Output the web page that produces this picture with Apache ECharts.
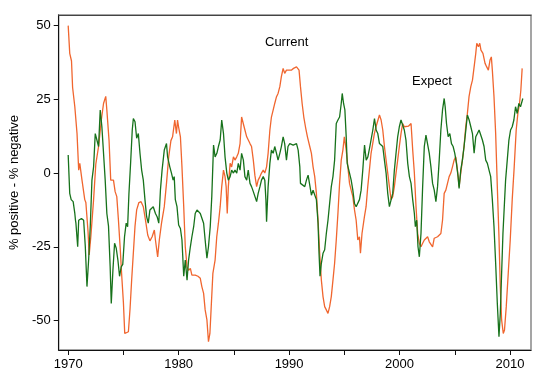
<!DOCTYPE html>
<html>
<head>
<meta charset="utf-8">
<script src="https://cdn.jsdelivr.net/npm/echarts@6/dist/echarts.min.js"></script>
<style>html,body{margin:0;padding:0;background:#fff}#c{width:550px;height:392px}</style>
</head>
<body>
<div id="c"></div>
<script>
// Current (orange) series: time (year) and value
var currentYears = [1970.0,1970.14,1970.3,1970.4,1970.6,1970.8,1970.95,1971.05,1971.25,1971.5,1971.6,1971.8,1971.9,1972.05,1972.3,1972.5,1972.75,1973.0,1973.2,1973.4,1973.5,1973.7,1973.85,1973.95,1974.1,1974.25,1974.4,1974.55,1974.7,1974.85,1975.0,1975.12,1975.3,1975.45,1975.6,1975.75,1975.9,1976.05,1976.2,1976.4,1976.6,1976.8,1976.95,1977.0,1977.2,1977.4,1977.6,1977.8,1977.9,1978.1,1978.25,1978.45,1978.7,1978.9,1979.1,1979.3,1979.45,1979.65,1979.8,1979.9,1980.0,1980.16,1980.3,1980.46,1980.6,1980.76,1980.9,1981.06,1981.2,1981.5,1981.75,1981.96,1982.1,1982.26,1982.4,1982.56,1982.7,1982.83,1982.95,1983.1,1983.3,1983.45,1983.6,1983.76,1983.9,1984.06,1984.2,1984.3,1984.4,1984.5,1984.66,1984.8,1984.96,1985.1,1985.26,1985.4,1985.56,1985.7,1985.86,1986.0,1986.16,1986.3,1986.46,1986.6,1986.76,1986.9,1987.06,1987.2,1987.36,1987.5,1987.66,1987.8,1987.96,1988.1,1988.26,1988.4,1988.56,1988.7,1988.86,1989.0,1989.16,1989.3,1989.46,1989.6,1989.76,1989.9,1990.2,1990.4,1990.67,1990.9,1991.03,1991.18,1991.33,1991.48,1991.66,1991.87,1992.02,1992.17,1992.32,1992.47,1992.62,1992.77,1992.92,1993.07,1993.22,1993.37,1993.52,1993.67,1993.82,1993.97,1994.12,1994.27,1994.42,1994.57,1994.72,1994.87,1995.0,1995.17,1995.32,1995.47,1995.62,1995.77,1995.92,1996.07,1996.22,1996.37,1996.46,1996.6,1996.82,1996.97,1997.12,1997.27,1997.42,1997.57,1997.72,1997.87,1998.18,1998.33,1998.48,1998.63,1998.78,1998.93,1999.08,1999.23,1999.38,1999.53,1999.68,1999.83,1999.98,2000.13,2000.28,2000.43,2000.58,2000.8,2001.04,2001.19,2001.34,2001.49,2001.64,2001.79,2001.94,2002.09,2002.24,2002.39,2002.54,2002.69,2002.84,2002.99,2003.14,2003.29,2003.44,2003.59,2003.74,2003.89,2004.04,2004.19,2004.34,2004.49,2004.64,2004.79,2004.94,2005.09,2005.24,2005.39,2005.54,2005.69,2005.84,2005.99,2006.14,2006.29,2006.45,2006.6,2006.75,2006.9,2006.99,2007.14,2007.26,2007.37,2007.55,2007.74,2007.89,2008.04,2008.19,2008.31,2008.4,2008.55,2008.7,2008.85,2009.0,2009.12,2009.24,2009.39,2009.5,2009.66,2009.84,2010.02,2010.2,2010.38,2010.56,2010.71,2010.86,2010.98,2011.1];
var currentValues = [50,40.6,38,29,22.5,13.4,1,3.3,-2.4,-9,-10,-20,-27.8,-21.6,-9,3,9,18,23.6,26,21.4,11,-2.4,-1.8,-2.4,-6.3,-8,-16,-25,-35,-44,-54.4,-55,-53.8,-46,-36,-27,-18,-12.5,-10,-9.7,-11.4,-10.8,-16,-21,-23,-21.6,-19.3,-22.7,-28.4,-22.7,-17,-11.4,-3.5,5.5,11,12.3,18,13.4,18,15.5,12.3,2.1,-11.4,-25,-31.8,-33,-32.3,-34.6,-34.6,-35,-35.7,-38.5,-40.8,-46.4,-49.8,-57.2,-54.4,-45.3,-34,-29.5,-21.6,-17,-11.4,-4.6,1,-1.2,-4.6,-13.7,-4.6,3.3,2.1,5.5,4.4,5.5,6.7,10,19,18.5,14.6,12.3,11.8,10,9,4.4,-0.7,-4.6,-2.4,-1.2,0,1,0,2.1,6.7,14.6,19,21.4,23.6,25.9,27,29.3,32.7,35.5,33.8,34.9,35.5,34.9,35.5,36,34.9,29.3,23.6,19,15.7,12.3,9,6.7,2.1,-1.2,-6.9,-16,-27.2,-36.3,-41.9,-45.3,-46.4,-47.6,-45.3,-41.9,-36.3,-30.6,-22.7,-13.7,-3.5,4.4,7.8,12.3,7.8,2.1,-3.5,-5.8,-8,-12.5,-16,-22.7,-21.6,-27.2,-20.5,-14.8,-11.4,-4.6,1,6.7,10,13.4,15.7,19.7,18,14.6,9,4.4,0,-4.6,-9,-8,-4.6,0,4.4,9,13.4,16.8,15.7,16.3,15.9,16.8,7.8,0,-11.4,-20.5,-23.8,-25,-23.8,-22.7,-23.3,-21.6,-23.3,-23.8,-25,-22.1,-22.7,-21.6,-22.1,-20.5,-16,-6.9,-5.8,-3.5,-1.2,0,2.1,4.4,5.5,1,-4.6,0,4.4,9,15.7,20.2,25.9,29.3,31.5,36,40.6,44,42.8,44,41.7,40.6,37.2,36,34.9,38.3,39.4,34.9,25.9,13.4,-4.6,-21.6,-38.5,-49.8,-54.4,-53.2,-45.3,-34,-22.7,-9,2.1,14.6,20.2,23.6,28.1,35.5];

// Expect (green) series
var expectYears = [1970.0,1970.14,1970.27,1970.45,1970.6,1970.66,1970.7,1970.86,1970.95,1971.05,1971.2,1971.4,1971.55,1971.7,1971.85,1972.0,1972.15,1972.3,1972.45,1972.6,1972.75,1972.9,1973.05,1973.2,1973.35,1973.5,1973.65,1973.8,1973.9,1974.05,1974.2,1974.35,1974.5,1974.65,1974.8,1974.94,1975.1,1975.25,1975.38,1975.5,1975.65,1975.8,1975.9,1976.05,1976.2,1976.35,1976.5,1976.65,1976.8,1976.95,1977.1,1977.25,1977.4,1977.55,1977.7,1977.9,1978.05,1978.2,1978.35,1978.5,1978.7,1978.9,1979.0,1979.2,1979.35,1979.5,1979.6,1979.7,1979.85,1980.0,1980.16,1980.3,1980.46,1980.6,1980.76,1980.9,1981.06,1981.2,1981.36,1981.5,1981.66,1981.8,1981.96,1982.1,1982.26,1982.4,1982.56,1982.7,1982.86,1983.0,1983.16,1983.3,1983.46,1983.6,1983.76,1983.9,1984.06,1984.2,1984.36,1984.5,1984.66,1984.8,1984.96,1985.1,1985.26,1985.4,1985.56,1985.7,1985.86,1986.0,1986.16,1986.3,1986.46,1986.6,1986.76,1986.9,1987.06,1987.2,1987.36,1987.5,1987.66,1987.8,1987.9,1987.96,1988.1,1988.26,1988.4,1988.56,1988.7,1988.86,1989.0,1989.16,1989.3,1989.46,1989.6,1989.76,1989.9,1990.06,1990.37,1990.67,1990.82,1990.97,1991.03,1991.21,1991.42,1991.57,1991.72,1991.87,1992.02,1992.17,1992.32,1992.47,1992.62,1992.71,1992.8,1992.92,1993.07,1993.22,1993.37,1993.52,1993.67,1993.82,1993.97,1994.12,1994.27,1994.42,1994.57,1994.72,1994.81,1994.93,1995.05,1995.17,1995.26,1995.47,1995.62,1995.77,1995.92,1996.07,1996.22,1996.37,1996.52,1996.67,1996.83,1996.98,1997.13,1997.28,1997.43,1997.58,1997.73,1997.88,1998.03,1998.18,1998.33,1998.48,1998.63,1998.78,1998.93,1999.08,1999.23,1999.38,1999.53,1999.68,1999.83,1999.98,2000.13,2000.28,2000.43,2000.58,2000.74,2000.89,2001.04,2001.19,2001.34,2001.43,2001.55,2001.67,2001.79,2001.94,2002.09,2002.24,2002.39,2002.54,2002.69,2002.84,2002.99,2003.14,2003.29,2003.44,2003.59,2003.74,2003.89,2004.04,2004.13,2004.25,2004.4,2004.55,2004.7,2004.85,2005.0,2005.15,2005.3,2005.39,2005.54,2005.69,2005.84,2006.0,2006.14,2006.3,2006.45,2006.6,2006.75,2006.9,2007.05,2007.2,2007.35,2007.5,2007.65,2007.8,2007.95,2008.1,2008.25,2008.4,2008.55,2008.7,2008.85,2009.0,2009.12,2009.24,2009.36,2009.48,2009.6,2009.75,2009.9,2010.05,2010.2,2010.35,2010.5,2010.65,2010.8,2010.95,2011.16];
var expectValues = [6.1,-6.9,-9,-9.7,-13.7,-16,-17,-25,-16,-16.5,-15.4,-16,-25,-38.5,-29.5,-18,-2.4,2.1,13.4,12.9,9,21.4,15.7,6.7,-2.4,-13.7,-18,-31.8,-44.2,-32.9,-23.8,-25.5,-29.5,-35,-31.8,-31,-21.6,-17,-18.2,-6.9,3.3,14.6,18.5,17.4,11.8,13.4,6.7,1,-2.4,-9,-14.8,-17,-12.5,-12,-11.4,-13.7,-14.8,-17,-5.8,1,7.8,10,5.5,2.1,0,-2.4,-1.2,-9,-11.4,-17.6,-18.8,-22.7,-35,-29.5,-36.3,-29.5,-25,-21.6,-18.2,-13.7,-12.5,-13.1,-13.7,-13.1,-17,-22.7,-28.9,-25,-18.2,-8,9.5,5.5,6.7,9,11.2,18,13.4,5.5,0,-2.4,-1.2,1,0,1,0,3.3,1,6.7,4.4,-1.2,-2.4,1,-3.5,-4.6,-6.3,-6.9,-9.7,-6.9,-4.6,-2.4,-1.2,-2.4,-9,-16.5,-4.6,3.3,7.8,6.7,9,6.7,4.4,6.7,9,12.3,10,4.4,9,10,9.5,10,7.8,2.1,-3.5,-2.9,-4.6,-2.4,-0.7,-4.1,-7.5,-5.8,-6.3,-9,-17,-27.2,-35,-30.6,-27.2,-26,-20.5,-16,-10.3,-4.6,-1.2,4.4,16.8,18,19,23.6,27,23.6,21.4,12.3,3.3,0,-2.4,-5.8,-10.3,-11.4,-12,-9,-5.8,1,9.5,4.4,5.5,8.4,9,14.6,18.5,14.6,13.4,10,10.6,9,4.4,0,-6.9,-11.4,-12,-6.9,1,6.7,12.3,15.7,18,17.4,14.6,11.2,3.3,-1.2,-3.5,-9,-13.7,-18.2,-16,-25,-28.4,-20.5,-4.6,9,12.9,13.4,6.7,2.1,-3.5,-5.8,-9.7,-4.6,4.4,14.6,21.4,25.3,22.5,16.8,12.3,13.4,10,9,6.7,3.3,-1.2,-5.2,1,4.4,9,14.6,19.7,18,15.7,13.4,6.7,12.3,13.4,14.6,14,11.2,9,4.4,3.3,1,-1.2,-9,-18.2,-30.6,-44.2,-55.5,-47.6,-34,-20.5,-11.4,-2.4,4.4,11.2,14.6,15.7,18,22.5,20.2,23.6,22.5,25.3];

var xTickValues = [1970,1975,1980,1985,1990,1995,2000,2005,2010];
var xLabelValues = [1970,1980,1990,2000,2010];
var yTickValues = [-50,-25,0,25,50];
var seriesNames = ['Current','Expect'];
var yAxisTitle = '% positive - % negative';

function pairs(xs, ys){ return xs.map(function(x,i){ return [x, ys[i]]; }); }

var FONT = '"Liberation Sans", Arial, Helvetica, sans-serif';
var chart = echarts.init(document.getElementById('c'), null, {renderer:'canvas'});
chart.setOption({
  animation: false,
  backgroundColor: '#ffffff',
  grid: { left: 56, top: 15, right: 19, bottom: 42, show: true, borderColor: '#888', borderWidth: 1.5, backgroundColor: '#fff' },
  xAxis: [{
    type: 'value', min: 1969.14, max: 2011.9,
    axisLine: { show: true, onZero: false, lineStyle: { color: '#111', width: 1 } },
    axisTick: { show: true, length: 5, customValues: xTickValues, lineStyle: { color: '#111' } },
    axisLabel: { customValues: xLabelValues, color: '#000', fontFamily: FONT, fontSize: 13, margin: 8, formatter: function(v){ return String(v); } },
    splitLine: { show: false }
  },{
    type: 'value', position: 'top', min: 1969.14, max: 2011.9,
    axisLine: { show: true, onZero: false, lineStyle: { color: '#444', width: 1 } },
    axisTick: { show: false }, axisLabel: { show: false }, splitLine: { show: false }
  }],
  yAxis: {
    type: 'value', min: -60, max: 53.6,
    name: yAxisTitle, nameLocation: 'middle', nameGap: 35, nameRotate: 90,
    nameTextStyle: { color: '#000', fontFamily: FONT, fontSize: 13 },
    axisLine: { show: true, onZero: false, lineStyle: { color: '#111', width: 1 } },
    axisTick: { show: true, length: 5, customValues: yTickValues, lineStyle: { color: '#111' } },
    axisLabel: { customValues: yTickValues, color: '#000', fontFamily: FONT, fontSize: 13, margin: 8 },
    splitLine: { show: false }
  },
  graphic: [
    { type: 'text', left: 265, top: 36, style: { text: seriesNames[0], fontFamily: FONT, fontSize: 13, fill: '#000' } },
    { type: 'text', left: 412, top: 75, style: { text: seriesNames[1], fontFamily: FONT, fontSize: 13, fill: '#000' } }
  ],
  series: [
    { name: seriesNames[0], type: 'line', data: pairs(currentYears, currentValues), showSymbol: false, symbol: 'none',
      lineStyle: { color: '#f0662f', width: 1.3 }, itemStyle: { color: '#f0662f' }, z: 2 },
    { name: seriesNames[1], type: 'line', data: pairs(expectYears, expectValues), showSymbol: false, symbol: 'none',
      lineStyle: { color: '#17721b', width: 1.3 }, itemStyle: { color: '#17721b' }, z: 3 }
  ]
});
</script>
</body>
</html>
